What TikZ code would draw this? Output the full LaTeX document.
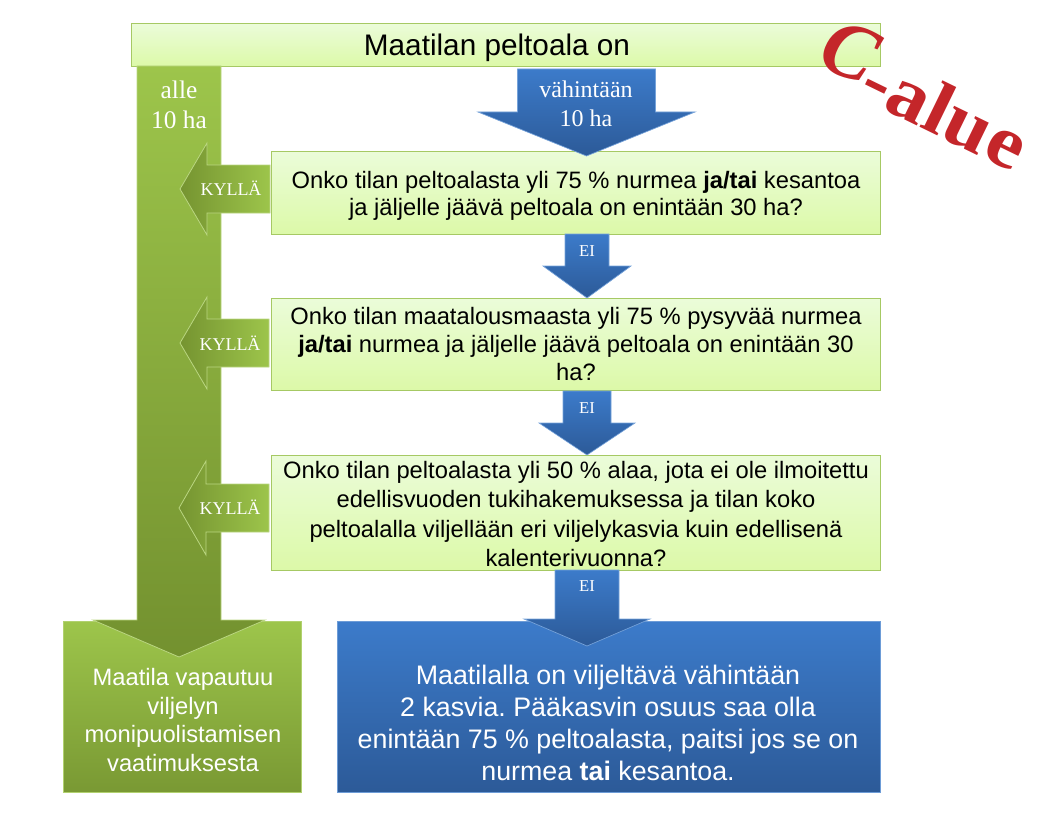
\documentclass[tikz,border=0pt]{standalone}
\usepackage{fontspec}
\setmainfont{Liberation Sans}
\newfontfamily\serifface{Liberation Serif}
\usetikzlibrary{calc}
\definecolor{boxedge}{HTML}{A6C964}
\definecolor{boxtop}{HTML}{EBFCD9}
\definecolor{boxbot}{HTML}{DCF9A8}
\definecolor{gtop}{HTML}{9DC54B}
\definecolor{gbot}{HTML}{73912F}
\definecolor{btop}{HTML}{3C7BCA}
\definecolor{bbot}{HTML}{2C5A98}
\definecolor{cred}{HTML}{C4262A}
\tikzset{
  qbox/.style={draw=boxedge,line width=1pt,top color=boxtop,bottom color=boxbot,anchor=north west,inner sep=0pt},
  greenbox/.style={draw=gtop!80!white,line width=.8pt,top color=gtop,bottom color=gbot!85!gtop,anchor=north west,inner sep=0pt},
  bluebox/.style={draw=btop!75!white,line width=.8pt,top color=btop,bottom color=bbot,anchor=north west,inner sep=0pt},
  garrow/.style={draw=gtop!70!white,line width=.6pt,left color=gbot!95!gtop,right color=gtop},
  gvarrow/.style={draw=gtop!70!white,line width=.6pt,top color=gtop,bottom color=gbot},
  barrow/.style={draw=btop!70!white,line width=.5pt,top color=btop,bottom color=bbot},
  txt/.style={align=center,inner sep=0pt,text=black},
  wtxt/.style={align=center,inner sep=0pt,text=white},
  lab/.style={align=center,inner sep=0pt,text=white},
}
\newcommand{\downblock}[7][barrow]{% style, cx, top, half, base, headhalf, tip
  \path[#1] (#2-#4,#3) -- (#2+#4,#3) -- (#2+#4,#5) -- (#2+#6,#5) -- (#2,#7) -- (#2-#6,#5) -- (#2-#4,#5) -- cycle;}
\newcommand{\leftblock}[6]{% right, cy, half, base, headhalf, tip
  \path[garrow] (#1,#2-#3) -- (#4,#2-#3) -- (#4,#2-#5) -- (#6,#2) -- (#4,#2+#5) -- (#4,#2+#3) -- (#1,#2+#3) -- cycle;}
\frenchspacing
\begin{document}
\begin{tikzpicture}[x=0.75pt,y=-0.75pt]
\useasboundingbox (0,0) rectangle (1062,838);
% boxes
\node[qbox,minimum width=749*0.75pt,minimum height=43*0.75pt] (title) at (131,23) {};
\node[qbox,minimum width=609*0.75pt,minimum height=83*0.75pt] (q1) at (271,151) {};
\node[qbox,minimum width=609*0.75pt,minimum height=92*0.75pt] (q2) at (271,298) {};
\node[qbox,minimum width=609*0.75pt,minimum height=115*0.75pt] (q3) at (271,455) {};
\node[greenbox,minimum width=238*0.75pt,minimum height=171*0.75pt] (free) at (63,621) {};
\node[bluebox,minimum width=543*0.75pt,minimum height=171*0.75pt] (must) at (337,621) {};
% box texts
\node[txt,font=\fontsize{22.3}{26}\selectfont] (titletxt) at (497,48) {Maatilan peltoala on};
\node[txt,font=\fontsize{17.8}{20.5}\selectfont] (q1txt) at (576,196)
  {Onko tilan peltoalasta yli 75 \% nurmea \textbf{ja/tai} kesantoa\\ja jäljelle jäävä peltoala on enintään 30 ha?};
\node[txt,font=\fontsize{17.8}{21}\selectfont] (q2txt) at (576,344)
  {Onko tilan maatalousmaasta yli 75 \% pysyvää nurmea\\\textbf{ja/tai} nurmea ja jäljelle jäävä peltoala on enintään 30\\ha?};
\node[txt,font=\fontsize{17.8}{22}\selectfont] (q3txt) at (576,514)
  {Onko tilan peltoalasta yli 50 \% alaa, jota ei ole ilmoitettu\\edellisvuoden tukihakemuksessa ja tilan koko\\peltoalalla viljellään eri viljelykasvia kuin edellisenä\\kalenterivuonna?};
\node[wtxt,font=\fontsize{17.8}{21.5}\selectfont] (freetxt) at (183,720)
  {Maatila vapautuu\\viljelyn\\monipuolistamisen\\vaatimuksesta};
\node[wtxt,font=\fontsize{20.1}{24.2}\selectfont] (musttxt) at (608,723)
  {Maatilalla on viljeltävä vähintään\\2 kasvia. Pääkasvin osuus saa olla\\enintään 75 \% peltoalasta, paitsi jos se on\\nurmea \textbf{tai} kesantoa.};
% arrows
\downblock[gvarrow]{179}{66}{42}{620}{86}{657}
\downblock{586.5}{69}{69}{112}{108.5}{156}
\downblock{587}{234}{22}{266}{44}{298}
\downblock{587}{391}{24}{423}{48}{455}
\downblock{587}{570}{32}{619}{63}{646}
\leftblock{270}{189}{24}{207}{46}{180}
\leftblock{269}{343}{24}{207}{46}{180}
\leftblock{269}{508}{24}{206}{47}{179}
% labels
\node[lab,font=\serifface\fontsize{19}{23}\selectfont] (l10) at (179,105) {alle\\10 ha};
\node[lab,font=\serifface\fontsize{18}{22}\selectfont] (m10) at (586,104) {vähintään\\10 ha};
\node[lab,font=\serifface\fontsize{12.5}{15}\selectfont] (e1) at (587,251) {EI};
\node[lab,font=\serifface\fontsize{12.5}{15}\selectfont] (e2) at (587,408) {EI};
\node[lab,font=\serifface\fontsize{12.5}{15}\selectfont] (e3) at (587,586) {EI};
\node[lab,font=\serifface\fontsize{13.5}{15}\selectfont] (k1) at (231,188) {KYLLÄ};
\node[lab,font=\serifface\fontsize{13.5}{15}\selectfont] (k2) at (230,343) {KYLLÄ};
\node[lab,font=\serifface\fontsize{13.5}{15}\selectfont] (k3) at (230,507) {KYLLÄ};
% C-alue
\node[text=cred,inner sep=0pt,rotate=-22] (cc) at (850,51) {\serifface\bfseries\itshape\fontsize{60}{60}\selectfont C};
\node[text=cred,inner sep=0pt,rotate=-26,xscale=1.1] (alue) at (946,112) {\serifface\bfseries\fontsize{56}{56}\selectfont -alue};
\end{tikzpicture}
\end{document}
